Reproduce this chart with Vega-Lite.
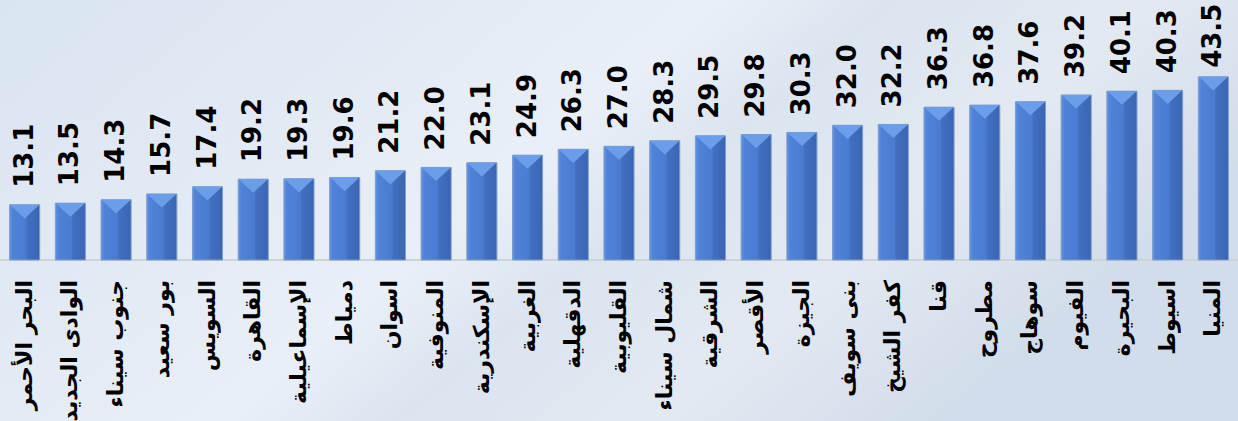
{
  "$schema": "https://vega.github.io/schema/vega-lite/v6.json",
  "width": 1238,
  "height": 421,
  "padding": 0,
  "autosize": {"type": "none"},
  "background": "#dae4ef",
  "config": {
    "view": {
      "stroke": null,
      "fill": {
        "gradient": "linear", "x1": 0, "y1": 0, "x2": 1, "y2": 0.4,
        "stops": [
          {"offset": 0, "color": "#d9e5f2"},
          {"offset": 0.3, "color": "#e2eaf4"},
          {"offset": 0.5, "color": "#e9eff6"},
          {"offset": 0.62, "color": "#dbe5f0"},
          {"offset": 0.8, "color": "#e2e9f1"},
          {"offset": 1, "color": "#d2ddeb"}
        ]
      }
    }
  },
  "data": {
    "values": [
      {"gov": "البحر الأحمر", "v": 13.1},
      {"gov": "الوادى الجديد", "v": 13.5},
      {"gov": "جنوب سيناء", "v": 14.3},
      {"gov": "بور سعيد", "v": 15.7},
      {"gov": "السويس", "v": 17.4},
      {"gov": "القاهرة", "v": 19.2},
      {"gov": "الإسماعيلية", "v": 19.3},
      {"gov": "دمياط", "v": 19.6},
      {"gov": "اسوان", "v": 21.2},
      {"gov": "المنوفية", "v": 22.0},
      {"gov": "الإسكندرية", "v": 23.1},
      {"gov": "الغربية", "v": 24.9},
      {"gov": "الدقهلية", "v": 26.3},
      {"gov": "القليوبية", "v": 27.0},
      {"gov": "شمال سيناء", "v": 28.3},
      {"gov": "الشرقية", "v": 29.5},
      {"gov": "الأقصر", "v": 29.8},
      {"gov": "الجيزة", "v": 30.3},
      {"gov": "بنى سويف", "v": 32.0},
      {"gov": "كفر الشيخ", "v": 32.2},
      {"gov": "قنا", "v": 36.3},
      {"gov": "مطروح", "v": 36.8},
      {"gov": "سوهاج", "v": 37.6},
      {"gov": "الفيوم", "v": 39.2},
      {"gov": "البحيرة", "v": 40.1},
      {"gov": "اسيوط", "v": 40.3},
      {"gov": "المنيا", "v": 43.5}
    ]
  },
  "layer": [
    {
      "mark": {"type": "rule", "color": "#cfd3d8", "strokeWidth": 2},
      "encoding": {"y": {"datum": 0, "type": "quantitative", "axis": null, "scale": {"domain": [-38.24, 61.76], "nice": false, "zero": false}}}
    },
    {
      "mark": {
        "type": "bar",
        "stroke": "#7f9dcc",
        "strokeWidth": 1,
        "fill": {
          "gradient": "linear", "x1": 0, "y1": 0, "x2": 1, "y2": 0,
          "stops": [
            {"offset": 0, "color": "#6793df"},
            {"offset": 0.1, "color": "#5083d8"},
            {"offset": 0.55, "color": "#4a7bd0"},
            {"offset": 0.58, "color": "#4270c2"},
            {"offset": 1, "color": "#3a65b2"}
          ]
        }
      },
      "encoding": {
        "x": {"field": "gov", "type": "nominal", "sort": null, "axis": null, "scale": {"paddingInner": 0.342, "paddingOuter": 0.21}},
        "y": {"field": "v", "type": "quantitative"},
        "y2": {"datum": 0}
      }
    },
    {
      "mark": {
        "type": "point", "shape": "M-1,0L1,0L0,0.93Z", "filled": true,
        "size": 860, "fill": "#6c9de8", "opacity": 1, "strokeWidth": 0
      },
      "encoding": {
        "x": {"field": "gov", "type": "nominal", "sort": null},
        "y": {"field": "v", "type": "quantitative"}
      }
    },
    {
      "transform": [{"filter": "datum.v < 42"}],
      "mark": {
        "type": "text", "angle": 270, "align": "left", "baseline": "middle",
        "dx": 17, "font": "DejaVu Sans", "fontWeight": "bold",
        "fontSize": 26, "color": "#000000"
      },
      "encoding": {
        "x": {"field": "gov", "type": "nominal", "sort": null},
        "y": {"field": "v", "type": "quantitative"},
        "text": {"field": "v", "type": "quantitative", "format": ".1f"}
      }
    },
    {
      "transform": [{"filter": "datum.v >= 42"}],
      "mark": {
        "type": "text", "angle": 270, "align": "left", "baseline": "middle",
        "dx": 9, "font": "DejaVu Sans", "fontWeight": "bold",
        "fontSize": 26, "color": "#000000"
      },
      "encoding": {
        "x": {"field": "gov", "type": "nominal", "sort": null},
        "y": {"field": "v", "type": "quantitative"},
        "text": {"field": "v", "type": "quantitative", "format": ".1f"}
      }
    },
    {
      "mark": {
        "type": "text", "angle": 270, "align": "right", "baseline": "middle",
        "dx": -20, "font": "DejaVu Sans", "fontWeight": "bold",
        "fontSize": 22, "color": "#000000"
      },
      "encoding": {
        "x": {"field": "gov", "type": "nominal", "sort": null},
        "y": {"datum": 0, "type": "quantitative"},
        "text": {"field": "gov", "type": "nominal"}
      }
    }
  ]
}
